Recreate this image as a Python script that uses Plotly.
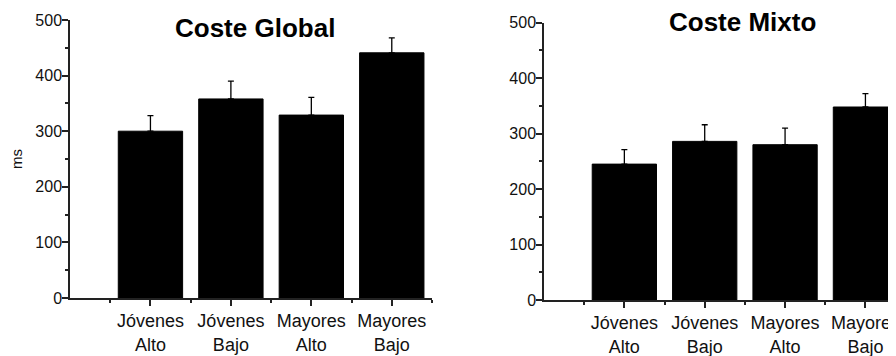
import plotly.graph_objects as go

categories = ["Jóvenes<br>Alto", "Jóvenes<br>Bajo", "Mayores<br>Alto", "Mayores<br>Bajo"]
global_means = [300, 358, 329, 441]
global_err = [28, 32, 32, 27]
mixto_means = [245, 286, 280, 348]
mixto_err = [26, 30, 30, 24]
y_ticks = [0, 100, 200, 300, 400, 500]

W, H = 896, 356
OFF = 8  # page body margin
FONT = "Arial, 'Liberation Sans', sans-serif"
xpos = list(range(len(categories)))


def px_x(v):
    return (v - OFF) / W


def px_y(v):
    return 1 - (v - OFF) / H


fig = go.Figure()
for means, errs, xa, ya in [(global_means, global_err, "x", "y"), (mixto_means, mixto_err, "x2", "y2")]:
    fig.add_trace(go.Bar(
        x=xpos, y=means, width=0.8, xaxis=xa, yaxis=ya,
        marker=dict(color="black", line=dict(color="black", width=1)),
        error_y=dict(type="data", array=errs, arrayminus=[0] * len(errs), symmetric=False,
                     color="black", thickness=1.3, width=3),
        showlegend=False, hoverinfo="skip",
    ))

axis_common = dict(showline=True, linecolor="#222", linewidth=1.5, showgrid=False, zeroline=False,
                   ticks="outside", tickcolor="#222", tickwidth=1.5, ticklen=6, automargin=False,
                   ticklabeloverflow="allow")

xcommon = dict(axis_common, tickmode="array", tickvals=xpos, ticktext=categories,
               tickfont=dict(family=FONT, size=18, color="#111"),
               minor=dict(tickmode="linear", tick0=-0.5, dtick=1, ticks="outside", ticklen=3,
                          tickcolor="#222", tickwidth=1.5, showgrid=False))
ycommon = dict(axis_common, range=[0, 500], tickmode="array", tickvals=y_ticks,
               tickfont=dict(family=FONT, size=16, color="#111"), ticklabelstandoff=-3,
               minor=dict(tickmode="linear", tick0=50, dtick=100, ticks="outside", ticklen=3,
                          tickcolor="#222", tickwidth=1.5, showgrid=False))

fig.update_layout(
    width=W, height=H, margin=dict(l=0, r=0, t=0, b=0, pad=0, autoexpand=False),
    paper_bgcolor="white", plot_bgcolor="white",
    bargap=0.2,
    xaxis=dict(xcommon, domain=[px_x(70), px_x(432)], range=[-1, 3.5], anchor="y"),
    yaxis=dict(ycommon, domain=[px_y(298), px_y(20)], anchor="x",
               title=dict(text="ms", font=dict(family=FONT, size=15, color="#111"), standoff=12)),
    xaxis2=dict(xcommon, domain=[px_x(544), 1.0], range=[-1, 3.48], anchor="y2"),
    yaxis2=dict(ycommon, domain=[px_y(300), px_y(22.7)], anchor="x2"),
    annotations=[
        dict(text="<b>Coste Global</b>", x=px_x(255), y=px_y(28), xref="paper", yref="paper",
             showarrow=False, xanchor="center", yanchor="middle",
             font=dict(family=FONT, size=26, color="black")),
        dict(text="<b>Coste Mixto</b>", x=px_x(742), y=px_y(22), xref="paper", yref="paper",
             showarrow=False, xanchor="center", yanchor="middle",
             font=dict(family=FONT, size=26, color="black")),
    ],
)

fig.write_html("out.html")
